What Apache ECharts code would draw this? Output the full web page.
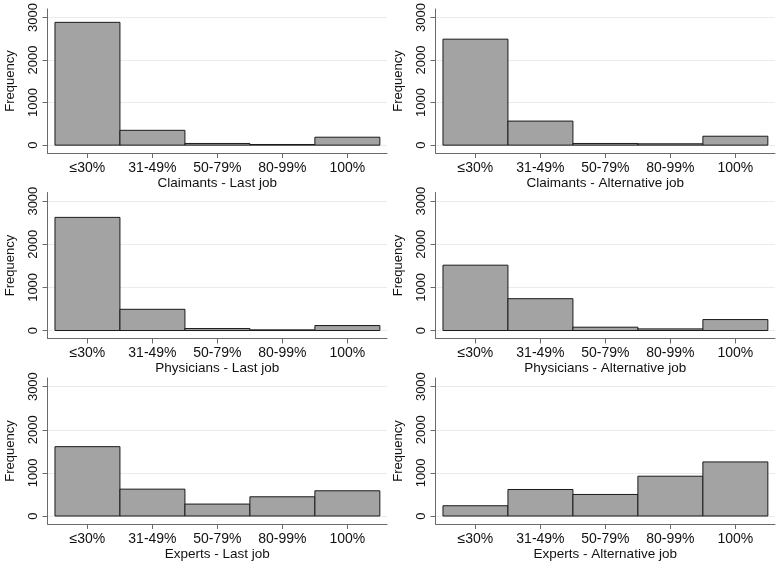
<!DOCTYPE html>
<html>
<head>
<meta charset="utf-8">
<script src="https://cdn.jsdelivr.net/npm/echarts@6/dist/echarts.min.js"></script>
<style>
html,body{margin:0;padding:0;background:#fff;}
#c{width:779px;height:565px;}
</style>
</head>
<body>
<div id="c"></div>
<script>
const categories = ['≤30%', '31-49%', '50-79%', '80-99%', '100%'];
const yTicks = [0, 1000, 2000, 3000];
const claimantsLast = [2885, 348, 39, 15, 186];
const claimantsAlt = [2490, 565, 39, 31, 209];
const physiciansLast = [2623, 492, 46, 15, 115];
const physiciansAlt = [1515, 738, 77, 38, 254];
const expertsLast = [1608, 623, 277, 446, 585];
const expertsAlt = [238, 615, 500, 923, 1254];
const panelTitles = ['Claimants - Last job', 'Claimants - Alternative job',
  'Physicians - Last job', 'Physicians - Alternative job',
  'Experts - Last job', 'Experts - Alternative job'];
const panelData = [claimantsLast, claimantsAlt, physiciansLast, physiciansAlt, expertsLast, expertsAlt];

const FONT = 'Liberation Sans, Arial, Helvetica, sans-serif';
const AXIS_COLOR = '#6a6a6a';
const TEXT_COLOR = '#111';
const lefts = [47.5, 435.5];
const tops = [7, 192.5, 378];

const grids = [], xAxes = [], yAxes = [], series = [];
panelData.forEach((vals, k) => {
  const col = k % 2, row = Math.floor(k / 2);
  grids.push({left: lefts[col], top: tops[row], width: 339.5, height: 146, containLabel: false});
  xAxes.push({
    gridIndex: k, type: 'value', min: -0.615, max: 4.61,
    name: panelTitles[k], nameLocation: 'middle', nameGap: 23,
    nameTextStyle: {fontFamily: FONT, fontSize: 13.5, color: TEXT_COLOR},
    axisLine: {show: true, onZero: false, lineStyle: {color: AXIS_COLOR, width: 1}},
    axisTick: {show: true, length: 5, customValues: [0, 1, 2, 3, 4], lineStyle: {color: AXIS_COLOR}},
    axisLabel: {customValues: [0, 1, 2, 3, 4], formatter: v => categories[v] || '', margin: 8,
      fontFamily: FONT, fontSize: 14, color: TEXT_COLOR},
    splitLine: {show: false}
  });
  yAxes.push({
    gridIndex: k, type: 'value', min: -185, max: 3200,
    name: 'Frequency', nameLocation: 'middle', nameGap: 31, nameRotate: 90,
    nameTextStyle: {fontFamily: FONT, fontSize: 13, color: TEXT_COLOR},
    axisLine: {show: true, onZero: false, lineStyle: {color: AXIS_COLOR, width: 1}},
    axisTick: {show: true, length: 5, customValues: yTicks, lineStyle: {color: AXIS_COLOR}},
    axisLabel: {customValues: yTicks, rotate: 90, margin: 8, formatter: v => String(v),
      fontFamily: FONT, fontSize: 13, color: TEXT_COLOR},
    splitLine: {show: true, lineStyle: {color: '#e4eef0', width: 1}}
  });
  series.push({
    type: 'custom', xAxisIndex: k, yAxisIndex: k,
    data: vals.map((v, i) => [i, v]),
    encode: {x: 0, y: 1},
    renderItem: (params, api) => {
      const i = api.value(0), v = api.value(1);
      const p0 = api.coord([i - 0.5, v]);
      const p1 = api.coord([i + 0.5, 0]);
      return {type: 'rect',
        shape: {x: p0[0], y: p0[1], width: p1[0] - p0[0], height: p1[1] - p0[1]},
        style: {fill: '#a3a3a3', stroke: '#1a1a1a', lineWidth: 1}};
    }
  });
});

const chart = echarts.init(document.getElementById('c'), null, {renderer: 'canvas'});
chart.setOption({
  animation: false,
  backgroundColor: '#fff',
  grid: grids, xAxis: xAxes, yAxis: yAxes, series: series
});
</script>
</body>
</html>
